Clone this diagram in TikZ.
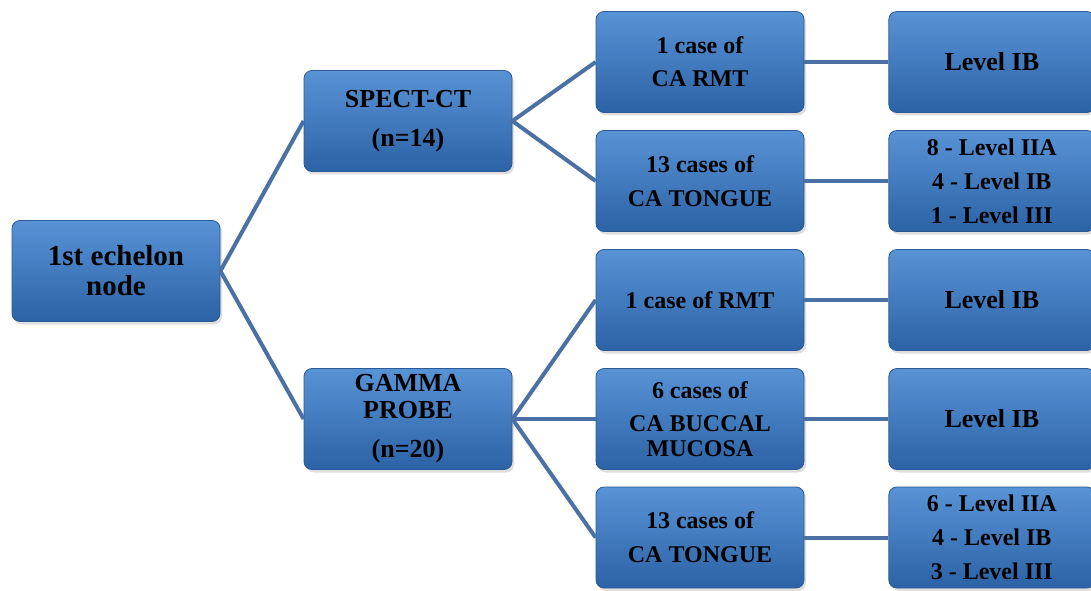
\documentclass[tikz,border=0pt]{standalone}
\usepackage{fontspec}
\setmainfont{Liberation Serif}
\usetikzlibrary{positioning, shadows}

\definecolor{boxtop}{HTML}{5893D6}
\definecolor{boxmid}{HTML}{3B76BC}
\definecolor{boxbot}{HTML}{2C62A6}
\definecolor{boxedge}{HTML}{2B5A96}
\definecolor{linkblue}{HTML}{4A70A4}

\newcommand{\fsz}[2]{\fontsize{#1}{#2}\selectfont\bfseries}

\begin{document}
\begin{tikzpicture}[x=1pt, y=1pt]
	\tikzset {node distance=84pt,
		box/.style={rectangle, rounded corners=8pt, minimum width=208pt, minimum height=101pt,
			top color=boxtop, middle color=boxmid, bottom color=boxbot, draw=boxedge, line width=0.8pt,
			align=center, text=black, inner sep=2pt,
			drop shadow={shadow xshift=2pt, shadow yshift=-3pt, opacity=0.25}},
		levelbox/.style={box, minimum width=206pt},
		link/.style={draw=linkblue, line width=4pt} }

	\useasboundingbox (0,0) rectangle (1091,590);

	% first echelon and methods
	\node[box, font=\fsz{29}{30}] (root) at (116,319) {1st echelon\\node};
	\node[box, font=\fsz{26}{27}] (spect) at (408,469) {SPECT-CT\\[12pt](n=14)};
	\node[box, font=\fsz{26}{27}] (gamma) at (408,171) {GAMMA\\PROBE\\[12pt](n=20)};

	% cases
	\node[box, font=\fsz{24}{27}] (rmt1) at (700,528) {1 case of\\[6pt]CA RMT};
	\node[box, font=\fsz{24}{27}] (tongue1) at (700,409) {13 cases of\\[7pt]CA TONGUE};
	\node[box, font=\fsz{24}{27}] (rmt2) at (700,290) {1 case of RMT};
	\node[box, font=\fsz{24}{25}] (buccal) at (700,171) {6 cases of\\[8pt]CA BUCCAL\\MUCOSA};
	\node[box, font=\fsz{24}{27}] (tongue2) at (700,52.5) {13 cases of\\[7pt]CA TONGUE};

	% levels
	\node[levelbox, right=of rmt1, font=\fsz{26}{27}] (lvl1) {Level IB};
	\node[levelbox, right=of tongue1, font=\fsz{24}{34}] (lvl2) {8 - Level IIA\\4 - Level IB\\1 - Level III};
	\node[levelbox, right=of rmt2, font=\fsz{26}{27}] (lvl3) {Level IB};
	\node[levelbox, right=of buccal, font=\fsz{26}{27}] (lvl4) {Level IB};
	\node[levelbox, right=of tongue2, font=\fsz{24}{34}] (lvl5) {6 - Level IIA\\4 - Level IB\\3 - Level III};

	\draw[link] (spect.west) -- (root.east) -- (gamma.west);
	\draw[link] (rmt1.west) -- (spect.east) -- (tongue1.west);
	\draw[link] (rmt2.west) -- (gamma.east) -- (tongue2.west);
	\draw[link] (gamma.east) -- (buccal.west);
	\draw[link] (rmt1) -- (lvl1);
	\draw[link] (tongue1) -- (lvl2);
	\draw[link] (rmt2) -- (lvl3);
	\draw[link] (buccal) -- (lvl4);
	\draw[link] (tongue2) -- (lvl5);
\end{tikzpicture}
\end{document}
